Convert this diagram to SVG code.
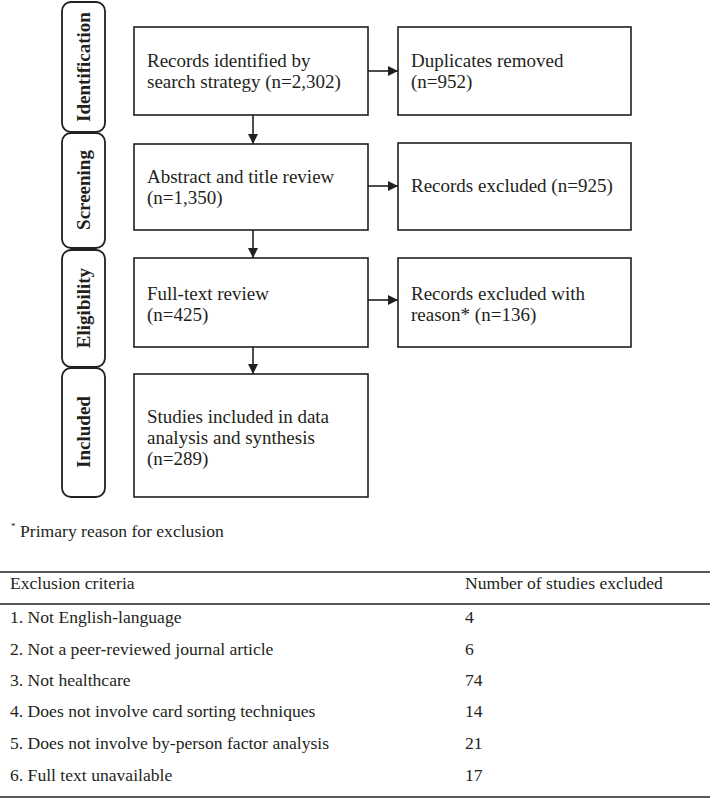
<svg xmlns="http://www.w3.org/2000/svg" width="712" height="798" viewBox="0 0 712 798">
<defs>
<style>
.box{fill:#fff;stroke:#231f20;stroke-width:1.6}
.phase{fill:#fff;stroke:#231f20;stroke-width:1.8}
.t{font-family:"Liberation Serif","Times New Roman",serif;font-size:19px;fill:#231f20}
.ph{font-family:"Liberation Serif","Times New Roman",serif;font-size:19px;font-weight:bold;fill:#231f20}
.tb{font-family:"Liberation Serif","Times New Roman",serif;font-size:17.6px;fill:#231f20}
.c{stroke:#231f20;stroke-width:1.6;fill:none}
.rule{stroke:#231f20;stroke-width:1.6}
</style>
<marker id="ah" viewBox="0 0 10 10" refX="10" refY="5" markerWidth="10" markerHeight="10" markerUnits="userSpaceOnUse" orient="auto">
<path d="M0,0 L10,5 L0,10 Z" fill="#231f20"/>
</marker>
</defs>
<rect width="712" height="798" fill="#fff"/>

<g id="phase-identification"><rect class="phase" x="62" y="2" width="43" height="130" rx="9"/><text class="ph" transform="translate(90,67) rotate(-90)" text-anchor="middle">Identification</text></g>
<g id="phase-screening"><rect class="phase" x="62" y="133" width="43" height="115" rx="9"/><text class="ph" transform="translate(90,190) rotate(-90)" text-anchor="middle">Screening</text></g>
<g id="phase-eligibility"><rect class="phase" x="62" y="250" width="43" height="117" rx="9"/><text class="ph" transform="translate(90,308) rotate(-90)" text-anchor="middle">Eligibility</text></g>
<g id="phase-included"><rect class="phase" x="62" y="368" width="43" height="129" rx="9"/><text class="ph" transform="translate(90,432) rotate(-90)" text-anchor="middle">Included</text></g>

<g id="n-records"><rect class="box" x="134" y="27" width="234" height="88"/><text class="t" x="147" y="67">Records identified by</text><text class="t" x="147" y="88">search strategy (n=2,302)</text></g>
<g id="n-duplicates"><rect class="box" x="398" y="27" width="233" height="88"/><text class="t" x="411" y="67">Duplicates removed</text><text class="t" x="411" y="88">(n=952)</text></g>
<g id="n-abstract"><rect class="box" x="134" y="144" width="234" height="86"/><text class="t" x="147" y="183">Abstract and title review</text><text class="t" x="147" y="204">(n=1,350)</text></g>
<g id="n-excluded1"><rect class="box" x="398" y="143" width="233" height="87"/><text class="t" x="411" y="192">Records excluded (n=925)</text></g>
<g id="n-fulltext"><rect class="box" x="134" y="258" width="234" height="89"/><text class="t" x="147" y="300">Full-text review</text><text class="t" x="147" y="321">(n=425)</text></g>
<g id="n-excluded2"><rect class="box" x="398" y="258" width="233" height="89"/><text class="t" x="411" y="300">Records excluded with</text><text class="t" x="411" y="321">reason* (n=136)</text></g>
<g id="n-included"><rect class="box" x="134" y="374" width="234" height="123"/><text class="t" x="147" y="423">Studies included in data</text><text class="t" x="147" y="444">analysis and synthesis</text><text class="t" x="147" y="465">(n=289)</text></g>

<g id="connectors">
<line class="c" x1="253" y1="115" x2="253" y2="144" marker-end="url(#ah)"/>
<line class="c" x1="253" y1="230" x2="253" y2="258" marker-end="url(#ah)"/>
<line class="c" x1="253" y1="347" x2="253" y2="374" marker-end="url(#ah)"/>
<line class="c" x1="368" y1="71" x2="398" y2="71" marker-end="url(#ah)"/>
<line class="c" x1="368" y1="186" x2="398" y2="186" marker-end="url(#ah)"/>
<line class="c" x1="368" y1="300" x2="398" y2="300" marker-end="url(#ah)"/>
</g>

<g id="footnote"><text class="tb" x="11" y="529" font-size="9px" style="font-size:9px">*</text><text class="tb" x="20" y="537">Primary reason for exclusion</text></g>

<g id="table">
<line class="rule" x1="0" y1="572" x2="710" y2="572"/>
<line class="rule" x1="0" y1="604" x2="710" y2="604"/>
<line class="rule" x1="0" y1="797" x2="710" y2="797"/>
<text class="tb" x="10" y="589">Exclusion criteria</text>
<text class="tb" x="465" y="589">Number of studies excluded</text>
<text class="tb" x="10" y="623">1. Not English-language</text><text class="tb" x="465" y="623">4</text>
<text class="tb" x="10" y="655">2. Not a peer-reviewed journal article</text><text class="tb" x="465" y="655">6</text>
<text class="tb" x="10" y="686">3. Not healthcare</text><text class="tb" x="465" y="686">74</text>
<text class="tb" x="10" y="717">4. Does not involve card sorting techniques</text><text class="tb" x="465" y="717">14</text>
<text class="tb" x="10" y="749">5. Does not involve by-person factor analysis</text><text class="tb" x="465" y="749">21</text>
<text class="tb" x="10" y="781">6. Full text unavailable</text><text class="tb" x="465" y="781">17</text>
</g>
</svg>
